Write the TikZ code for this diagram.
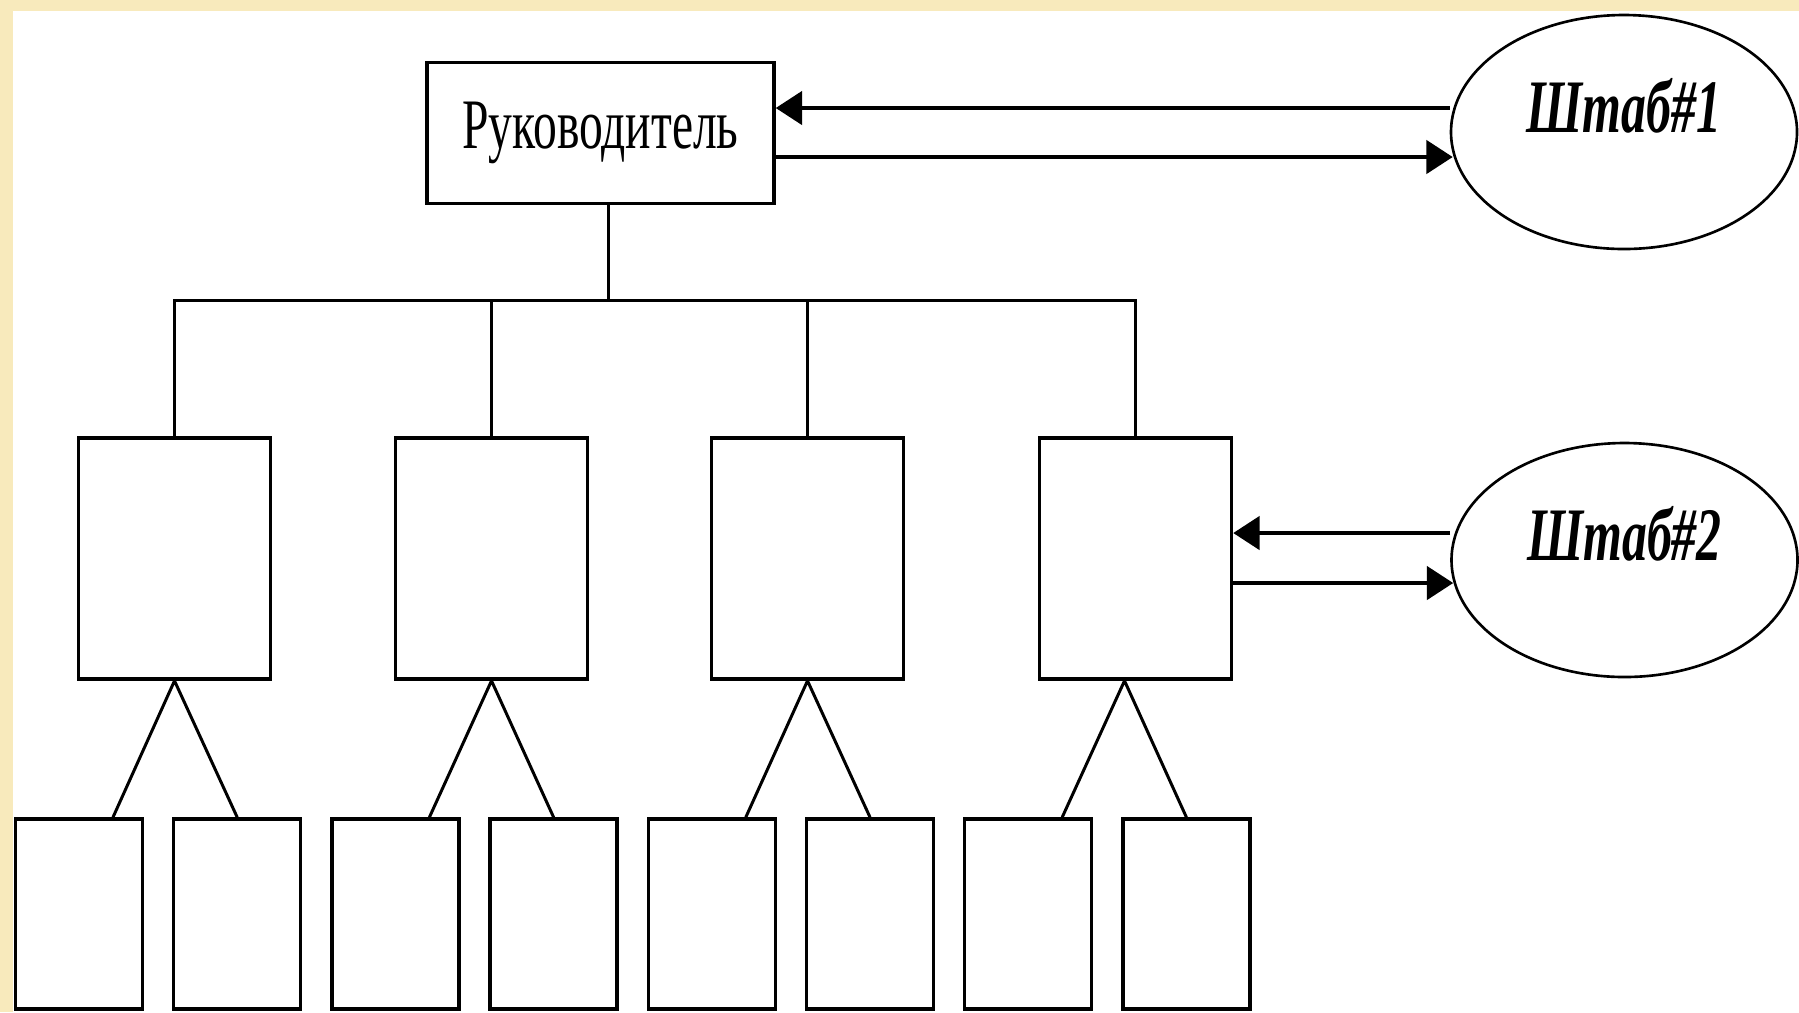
\documentclass[tikz,border=0pt]{standalone}
\usepackage{fontspec}
\setmainfont{Liberation Serif}
\newfontfamily\bossfont[FakeStretch=0.67]{Liberation Serif}
\newfontfamily\hqfont[FakeStretch=0.66]{Liberation Serif}
\usetikzlibrary{shapes,arrows.meta,positioning}
\definecolor{frame}{RGB}{248,234,188}
\tikzstyle{lead} = [rectangle, minimum width=3.47cm, minimum height=1.41cm, inner sep=0pt, draw=black, line width=1pt, font=\bossfont\fontsize{20.2}{21}\selectfont]
\tikzstyle{mid} = [rectangle, minimum width=1.92cm, minimum height=2.41cm, draw=black, line width=1pt]
\tikzstyle{leaf} = [rectangle, minimum width=1.27cm, minimum height=1.90cm, draw=black, line width=1pt]
\tikzstyle{hq} = [ellipse, minimum width=3.46cm, minimum height=2.34cm, inner sep=0pt, draw=black, line width=0.75pt, text height=0.5cm, text depth=0.5cm, font=\hqfont\bfseries\itshape\fontsize{21.5}{22}\selectfont]
\tikzstyle{link} = [line width=0.85pt]
\tikzstyle{flow} = [line width=1pt, -{Triangle[length=7.5pt,width=9.5pt]}]

\begin{document}
\begin{tikzpicture}[node distance=3.17cm]
		\useasboundingbox (0,0) rectangle (17.99,-10.12);
		\fill[frame] (0,0) rectangle (17.99,-10.12);
		\fill[white] (0.13,-0.11) rectangle (17.99,-10.12);

		\node[lead] at (6.005,-1.33) (boss) {Руководитель};
		\node[hq, right of=boss, xshift=7.065cm, yshift=0.01cm] (staff1) {Штаб\#1};

		\node[mid] at (1.745,-5.585) (m1) {};
		\node[mid, right of=m1] (m2) {};
		\node[mid, right of=m2, xshift=-0.01cm] (m3) {};
		\node[mid, right of=m3, xshift=0.11cm] (m4) {};
		\node[hq, right of=m4, xshift=1.72cm, yshift=-0.015cm] (staff2) {Штаб\#2};

		\node[leaf] at (0.79,-9.14) (b1) {};
		\node[leaf, right of=b1, node distance=1.582cm] (b2) {};
		\node[leaf, right of=b2, node distance=1.582cm] (b3) {};
		\node[leaf, right of=b3, node distance=1.582cm] (b4) {};
		\node[leaf, right of=b4, node distance=1.582cm] (b5) {};
		\node[leaf, right of=b5, node distance=1.582cm] (b6) {};
		\node[leaf, right of=b6, node distance=1.582cm] (b7) {};
		\node[leaf, right of=b7, node distance=1.582cm] (b8) {};

		\coordinate (bus) at ([xshift=0.075cm,yshift=-0.95cm]boss.south);
		\draw[link] ([xshift=0.075cm]boss.south) -- (bus);
		\draw[link] (m1.north) |- (bus -| m4.north) -- (m4.north);
		\draw[link] (m2.north) -- (m2.north |- bus);
		\draw[link] (m3.north) -- (m3.north |- bus);

		\draw[link] ([xshift=0.34cm]b1.north) -- (m1.south) -- (b2.north);
		\draw[link] ([xshift=0.34cm]b3.north) -- (m2.south) -- (b4.north);
		\draw[link] ([xshift=0.34cm]b5.north) -- (m3.south) -- (b6.north);
		\draw[link] ([xshift=0.34cm]b7.north) -- ([xshift=-0.11cm]m4.south) -- (b8.north);

		\draw[flow] ([yshift=0.24cm]staff1.west) -- ([yshift=0.24cm]staff1.west -| boss.east);
		\draw[flow] ([yshift=-0.24cm]boss.east) -- ([yshift=-0.24cm,xshift=0.03cm]boss.east -| staff1.west);
		\draw[flow] ([yshift=0.27cm]staff2.west) -- ([yshift=0.27cm]staff2.west -| m4.east);
		\draw[flow] ([yshift=-0.245cm]m4.east) -- ([yshift=-0.245cm,xshift=0.03cm]m4.east -| staff2.west);
\end{tikzpicture}
\end{document}
